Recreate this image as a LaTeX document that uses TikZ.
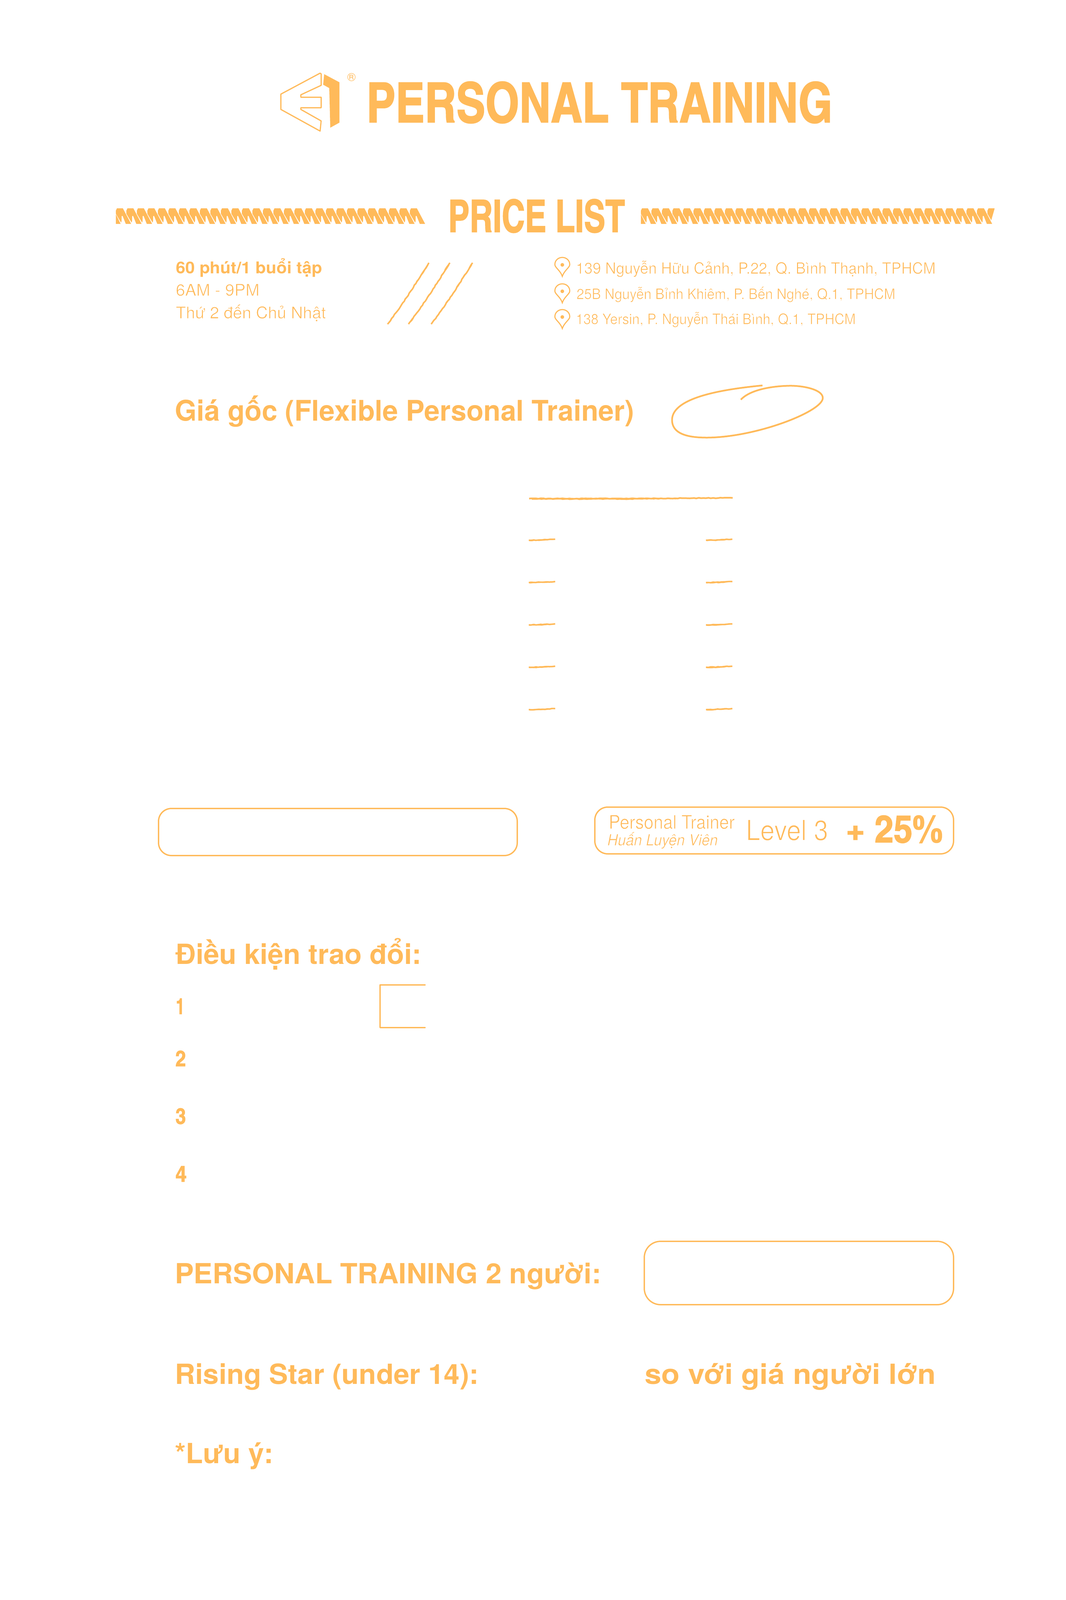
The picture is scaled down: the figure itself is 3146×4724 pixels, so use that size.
\documentclass[tikz,border=0pt]{standalone}
\usepackage{fontspec}
\usepackage{graphicx}
\usetikzlibrary{decorations.pathmorphing}
\setmainfont{TeX Gyre Heros}
\newfontfamily\cond{TeX Gyre Heros Cn}[BoldFeatures={FakeBold=1.6}]
\definecolor{brand}{HTML}{FFBA5A}
\tikzset{
  txt/.style={anchor=base west,inner sep=0,outer sep=0,text=brand},
  rough/.style={draw=brand,line width=#1,line cap=butt,decorate,decoration={random steps,segment length=7,amplitude=0.9}},
  rough/.default=4,
  boxline/.style={draw=brand,line width=4,rounded corners=38},
  pinline/.style={draw=brand,line width=3.2},
  tickmark/.pic={\draw[rough=4.5] (0,2) -- (40,1) -- (78,-1); \draw[rough=2.5] (2,3.5) -- (45,2) -- (60,0.5);},
  pinmark/.pic={\draw[pinline] (0,56) .. controls (-6,38) and (-22,30) .. (-22,21) .. controls (-22,9) and (-12,0) .. (0,0) .. controls (12,0) and (22,9) .. (22,21) .. controls (22,30) and (6,38) .. (0,56) -- cycle;
    \fill[brand] (0,22) circle (5.5);},
  ropeunit/.pic={\fill[brand] (0,7) -- (3.3,0) -- (20.7,0) -- (45,46) -- (29.3,46) -- (20,22.7) -- (17.3,22.7) -- (16.7,38.7) -- (15.3,42) -- (0,16) -- cycle;},
  hatchmark/.pic={\draw[rough=4.5] (0,181) .. controls (46,121) and (84,60) .. (122,0);
    \draw[rough=2.5] (3,176) .. controls (48,118) and (86,58) .. (120,6);}
}
\newcommand\tx[7]{\node[txt] (#1) at (#2,#3) {\fontsize{#5}{#5}\selectfont #6\resizebox{#4pt}{\height}{#7}};}
\newcommand\lite[2]{\special{pdf:code 1 1 1 RG 2 Tr #1 w}#2\special{pdf:code 0 Tr 0 w}}
\begin{document}
\begin{tikzpicture}[x=1pt,y=-1pt]
\useasboundingbox (0,0) rectangle (3146,4724);
\fill[white] (0,0) rectangle (3146,4724);
% logo
\draw[draw=brand,line width=3.5,line join=round] (945,216) -- (829,278) -- (829,323) -- (945,387) -- (948,357) -- (888,323) -- (888,318) -- (948,318) -- (948,287) -- (888,287) -- (888,280) -- (948,252) -- (948,218) -- cycle;
\fill[brand] (957,219) -- (1002,243) -- (1002,362) -- (975,377) -- (972,260) -- (954,250) -- cycle;
\node[inner sep=0,text=brand,font=\fontsize{34}{34}\selectfont] (reg) at (1038,228) {®};
\tx{title}{1082}{361}{1375}{163}{\cond\bfseries}{PERSONAL TRAINING}
% ropes
\foreach \k in {0,...,28} {\pic at ({342+31*\k},615) {ropeunit};}
\foreach \k in {0,...,32} {\pic at ({1892+31*\k},615) {ropeunit};}
\fill[brand] (342,632.5) -- (356,661) -- (342,661) -- cycle;
\fill[brand] (1892,632.5) -- (1906,661) -- (1892,661) -- cycle;
\begin{scope}
\clip (2900,610) -- (2938,610) -- (2922,665) -- (2900,665) -- cycle;
\pic at (2915,615) {ropeunit};
\end{scope}
\tx{price}{1323}{685}{522}{132}{\cond\bfseries}{PRICE LIST}
% hours
\tx{h1}{519}{807}{432}{48}{\bfseries}{60 phút/1 buổi tập}
\tx{h2}{519}{873}{247}{48}{}{\lite{1}{6AM - 9PM}}
\tx{h3}{519}{940}{443}{48}{}{\lite{1}{Thứ 2 đến Chủ Nhật}}
\pic at (1144,776) {hatchmark};
\pic at (1206,776) {hatchmark};
\pic at (1273,776) {hatchmark};
% addresses
\pic at (1660,760) {pinmark};
\pic at (1660,838) {pinmark};
\pic at (1660,914) {pinmark};
\tx{a1}{1700}{808}{1062}{46}{}{\lite{1}{139 Nguyễn Hữu Cảnh, P.22, Q. Bình Thạnh, TPHCM}}
\tx{a2}{1702}{883}{941}{43}{}{\lite{1}{25B Nguyễn Bỉnh Khiêm, P. Bến Nghé, Q.1, TPHCM}}
\tx{a3}{1700}{957}{826}{43}{}{\lite{1}{138 Yersin, P. Nguyễn Thái Bình, Q.1, TPHCM}}
% heading
\tx{g}{516}{1242}{1356}{84}{\bfseries}{Giá gốc (Flexible Personal Trainer)}
\draw[draw=brand,line width=5,line cap=butt] (2251,1138) .. controls (2150,1148) and (1984,1170) .. (1984,1240) .. controls (1984,1285) and (2040,1292) .. (2086,1292) .. controls (2230,1292) and (2429,1215) .. (2429,1175) .. controls (2429,1150) and (2370,1138) .. (2329,1139) .. controls (2280,1140) and (2215,1150) .. (2187,1180);
% table marks
\draw[rough=5] (1562,1472) -- (1860,1472) -- (2163,1470);
\draw[rough=3] (1570,1474) -- (1860,1474) -- (2000,1472);
\foreach \yy in {1593,1718,1843,1968,2093} {
  \pic at (1561,\yy) {tickmark};
  \pic at (2084,\yy) {tickmark};
}
% boxes
\draw[boxline] (468,2387) rectangle (1527,2526);
\draw[boxline] (1756,2383) rectangle (2815,2521);
\tx{p1}{1797}{2447}{372}{56}{}{\lite{1.2}{Personal Trainer}}
\tx{p2}{1793}{2496}{326}{46}{\itshape}{\lite{1}{Huấn Luyện Viên}}
\tx{lv}{2202}{2481}{243}{84}{}{\lite{2}{Level 3}}
\tx{pc}{2496}{2487}{287}{112}{\cond\bfseries}{+ 25\%}
% conditions
\tx{dk}{518}{2846}{726}{82}{\bfseries}{Điều kiện trao đổi:}
\tx{n1}{519}{2994}{26}{65}{\cond\bfseries}{1}
\tx{n2}{518}{3148}{31}{65}{\cond\bfseries}{2}
\tx{n3}{518}{3318}{31}{65}{\cond\bfseries}{3}
\tx{n4}{518}{3489}{33}{65}{\cond\bfseries}{4}
\draw[draw=brand,line width=3.5,line cap=round,line join=round] (1255,2908) -- (1122,2908) -- (1122,3034) -- (1255,3034);
% bottom
\tx{pt2}{516}{3789}{1259}{82}{\bfseries}{PERSONAL TRAINING 2 người:}
\draw[boxline,rounded corners=48] (1902,3665) rectangle (2815,3852);
\tx{rs}{516}{4086}{897}{82}{\bfseries}{Rising Star (under 14):}
\tx{so}{1903}{4086}{860}{82}{\bfseries}{so với giá người lớn}
\tx{lu}{516}{4320}{291}{82}{\bfseries}{*Lưu ý:}
\end{tikzpicture}
\end{document}
